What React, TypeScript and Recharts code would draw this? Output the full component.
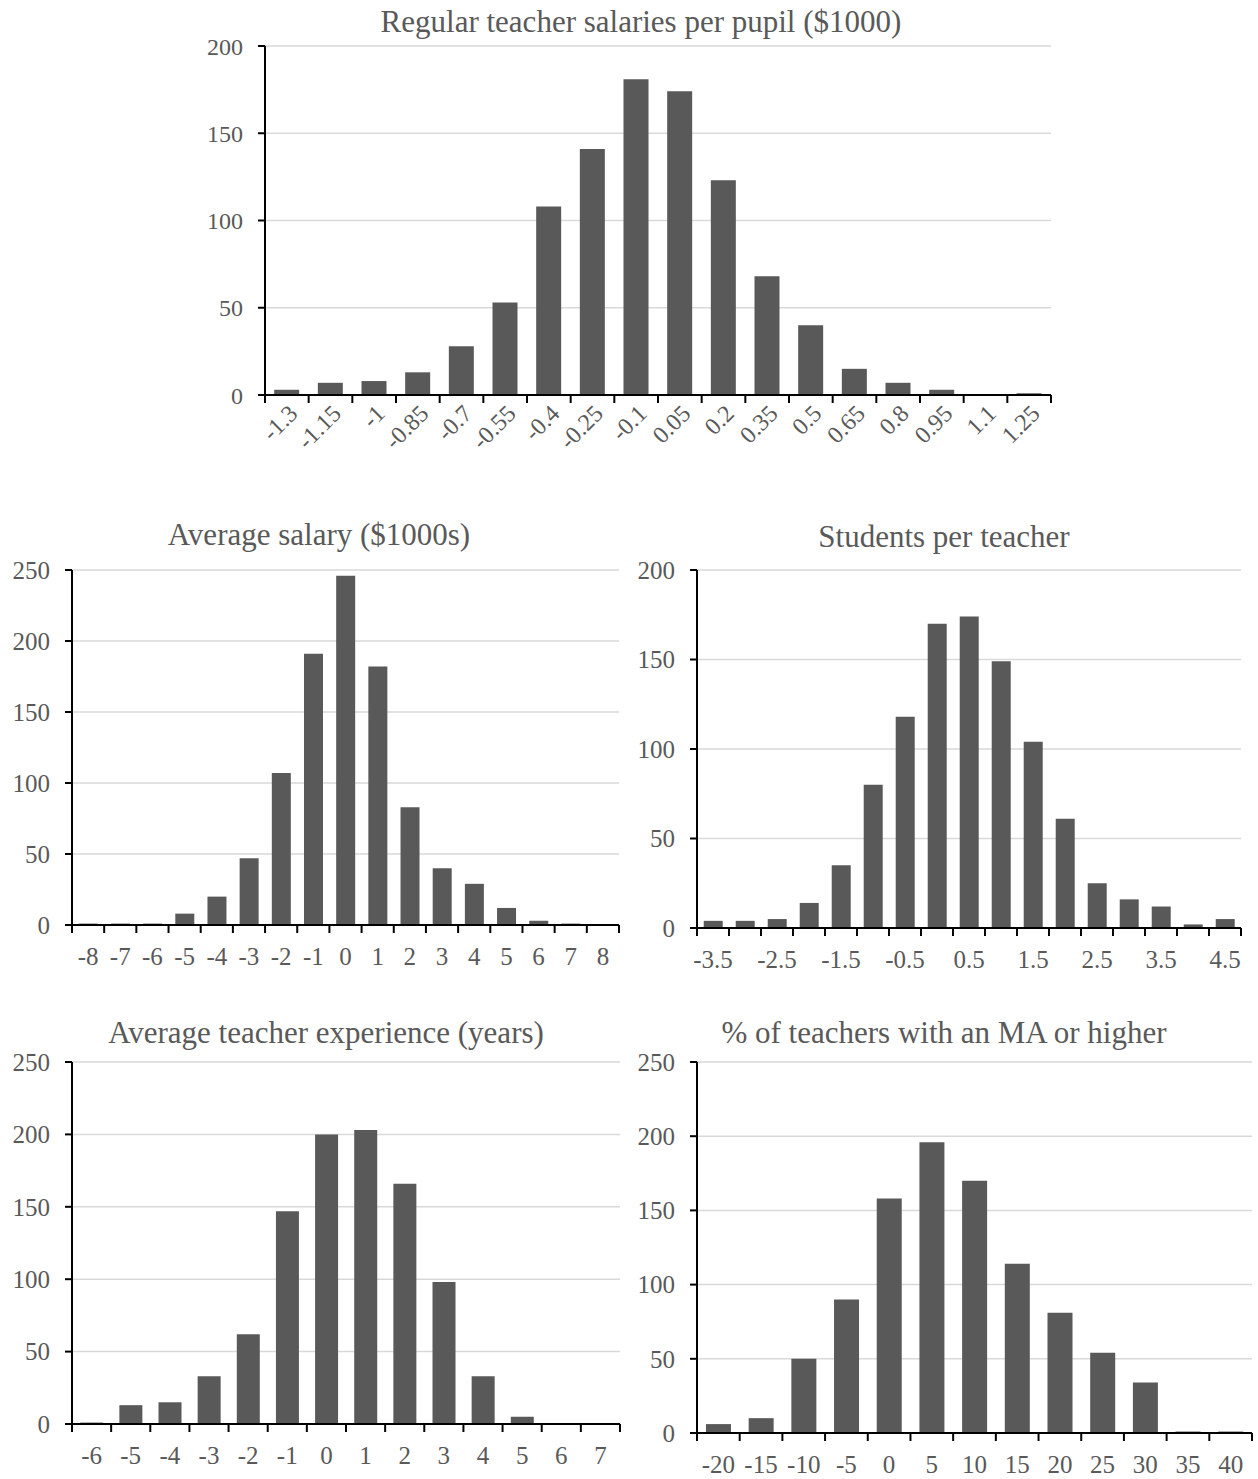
import { BarChart, Bar, XAxis, YAxis, CartesianGrid } from 'recharts'

const FONT = '"Liberation Serif", "Times New Roman", serif'

const COLORS = {
  bar: '#595959',
  text: '#595959',
  grid: '#d9d9d9',
  axis: '#000000',
}

// Regular teacher salaries per pupil ($1000)
const pupilBins = ['-1.3', '-1.15', '-1', '-0.85', '-0.7', '-0.55', '-0.4', '-0.25', '-0.1', '0.05', '0.2', '0.35', '0.5', '0.65', '0.8', '0.95', '1.1', '1.25']
const pupilCounts = [3, 7, 8, 13, 28, 53, 108, 141, 181, 174, 123, 68, 40, 15, 7, 3, 0, 1]
const pupilTicks = [0, 50, 100, 150, 200]

// Average salary ($1000s)
const salaryBins = ['-8', '-7', '-6', '-5', '-4', '-3', '-2', '-1', '0', '1', '2', '3', '4', '5', '6', '7', '8']
const salaryCounts = [1, 1, 1, 8, 20, 47, 107, 191, 246, 182, 83, 40, 29, 12, 3, 1, 0]
const salaryTicks = [0, 50, 100, 150, 200, 250]

// Students per teacher
const ratioBins = ['-3.5', '-3', '-2.5', '-2', '-1.5', '-1', '-0.5', '0', '0.5', '1', '1.5', '2', '2.5', '3', '3.5', '4', '4.5']
const ratioCounts = [4, 4, 5, 14, 35, 80, 118, 170, 174, 149, 104, 61, 25, 16, 12, 2, 5]
const ratioTicks = [0, 50, 100, 150, 200]

// Average teacher experience (years)
const expBins = ['-6', '-5', '-4', '-3', '-2', '-1', '0', '1', '2', '3', '4', '5', '6', '7']
const expCounts = [1, 13, 15, 33, 62, 147, 200, 203, 166, 98, 33, 5, 0, 0]
const expTicks = [0, 50, 100, 150, 200, 250]

// % of teachers with an MA or higher
const maBins = ['-20', '-15', '-10', '-5', '0', '5', '10', '15', '20', '25', '30', '35', '40']
const maCounts = [6, 10, 50, 90, 158, 196, 170, 114, 81, 54, 34, 1, 1]
const maTicks = [0, 50, 100, 150, 200, 250]

interface Box {
  left: number
  right: number
  top: number
  bottom: number
}

interface HistogramProps {
  title: string
  titleX: number
  titleY: number
  bins: string[]
  counts: number[]
  yTicks: number[]
  left: number
  top: number
  width: number
  plot: Box
  fontSize: number
  rotate?: boolean
  labelInterval?: number
}

const Y_AXIS_WIDTH = 60

function Histogram({
  title,
  titleX,
  titleY,
  bins,
  counts,
  yTicks,
  left,
  top,
  width,
  plot,
  fontSize,
  rotate = false,
  labelInterval = 0,
}: HistogramProps) {
  // pos = bin centre on a 0..n scale, used only by the boundary-tick axis
  const data = bins.map((bin, i) => ({ bin, count: counts[i], pos: i + 0.5 }))
  const edgeTicks = bins.map((_, i) => i).concat(bins.length)
  const labelHeight = rotate ? 70 : 45
  const height = plot.bottom - top + labelHeight + 6

  const margin = {
    top: plot.top - top,
    left: plot.left - left - Y_AXIS_WIDTH,
    right: left + width - plot.right,
    bottom: top + height - plot.bottom - labelHeight - 1,
  }

  const tickStyle = { fill: COLORS.text, fontSize, fontFamily: FONT }

  return (
    <>
      <div
        style={{
          position: 'absolute',
          left: titleX - 350,
          width: 700,
          top: titleY - 20,
          lineHeight: '40px',
          textAlign: 'center',
          fontFamily: FONT,
          fontSize: 31,
          color: COLORS.text,
          whiteSpace: 'nowrap',
        }}
      >
        {title}
      </div>
      <div style={{ position: 'absolute', left, top }}>
        <BarChart width={width} height={height} data={data} margin={margin} barCategoryGap="21%">
          <CartesianGrid horizontal vertical={false} stroke={COLORS.grid} strokeWidth={1.5} yAxisId="y" xAxisId="b" />
          {/* boundary ticks + baseline, sits right on the plot bottom */}
          <XAxis
            xAxisId="a"
            dataKey="pos"
            type="number"
            domain={[0, bins.length]}
            ticks={edgeTicks}
            interval={0}
            tickFormatter={() => ''}
            height={1}
            tickSize={8}
            axisLine={{ stroke: COLORS.axis, strokeWidth: 2 }}
            tickLine={{ stroke: COLORS.axis, strokeWidth: 2 }}
            allowDataOverflow
          />
          {/* category labels */}
          <XAxis
            xAxisId="b"
            dataKey="bin"
            type="category"
            interval={labelInterval}
            height={labelHeight}
            axisLine={false}
            tickLine={false}
            tickSize={0}
            tickMargin={rotate ? 7 : 21}
            angle={rotate ? -45 : 0}
            textAnchor={rotate ? 'end' : 'middle'}
            tick={tickStyle}
          />
          <YAxis
            yAxisId="y"
            width={Y_AXIS_WIDTH}
            domain={[0, yTicks[yTicks.length - 1]]}
            ticks={yTicks}
            interval={0}
            tick={tickStyle}
            tickSize={7}
            tickMargin={15}
            axisLine={{ stroke: COLORS.axis, strokeWidth: 2 }}
            tickLine={{ stroke: COLORS.axis, strokeWidth: 2 }}
          />
          <Bar
            dataKey="count"
            xAxisId="b"
            yAxisId="y"
            fill={COLORS.bar}
            isAnimationActive={false}
          />
        </BarChart>
      </div>
    </>
  )
}

export default function App() {
  return (
    <div
      style={{
        position: 'absolute',
        left: 0,
        top: 0,
        width: 1258,
        height: 1479,
        background: '#ffffff',
        overflow: 'hidden',
      }}
    >
      <Histogram
        title="Regular teacher salaries per pupil ($1000)"
        titleX={641}
        titleY={22}
        bins={pupilBins}
        counts={pupilCounts}
        yTicks={pupilTicks}
        left={0}
        top={0}
        width={1258}
        plot={{ left: 265, right: 1051, top: 46, bottom: 395 }}
        fontSize={24}
        rotate
      />
      <Histogram
        title="Average salary ($1000s)"
        titleX={319}
        titleY={535}
        bins={salaryBins}
        counts={salaryCounts}
        yTicks={salaryTicks}
        left={0}
        top={500}
        width={629}
        plot={{ left: 72, right: 619, top: 570, bottom: 925 }}
        fontSize={25}
      />
      <Histogram
        title="Students per teacher"
        titleX={944}
        titleY={537}
        bins={ratioBins}
        counts={ratioCounts}
        yTicks={ratioTicks}
        left={629}
        top={500}
        width={629}
        plot={{ left: 697, right: 1241, top: 570, bottom: 928 }}
        fontSize={25}
        labelInterval={1}
      />
      <Histogram
        title="Average teacher experience (years)"
        titleX={326}
        titleY={1033}
        bins={expBins}
        counts={expCounts}
        yTicks={expTicks}
        left={0}
        top={1000}
        width={629}
        plot={{ left: 72, right: 620, top: 1062, bottom: 1424 }}
        fontSize={25}
      />
      <Histogram
        title="% of teachers with an MA or higher"
        titleX={944}
        titleY={1033}
        bins={maBins}
        counts={maCounts}
        yTicks={maTicks}
        left={629}
        top={1000}
        width={629}
        plot={{ left: 697, right: 1252, top: 1062, bottom: 1433 }}
        fontSize={25}
      />
    </div>
  )
}
